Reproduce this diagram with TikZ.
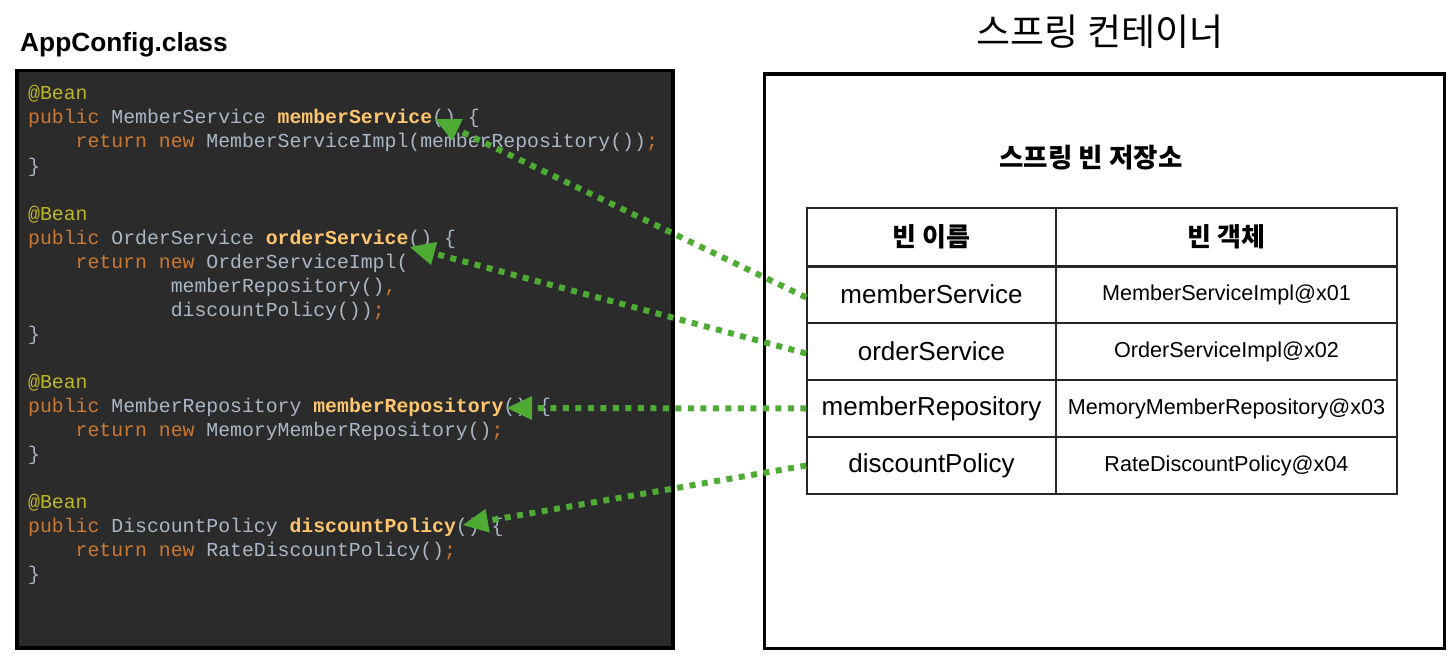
\documentclass[tikz,border=0pt]{standalone}
\usepackage{fontspec}
\setmainfont{Liberation Sans}
\newfontfamily\codefont{Liberation Mono}
\newfontfamily\krfont{Noto Sans CJK KR}
\usetikzlibrary{arrows.meta}
\definecolor{codebg}{HTML}{2B2B2B}
\definecolor{annot}{HTML}{BBB529}
\definecolor{kwcol}{HTML}{CC7832}
\definecolor{plaincol}{HTML}{A9B7C6}
\definecolor{methcol}{HTML}{FFC66D}
\definecolor{arrowgreen}{RGB}{78,172,52}
\newcommand{\kwd}[1]{\textcolor{kwcol}{#1}}
\newcommand{\mth}[1]{\textcolor{methcol}{\bfseries #1}}
\newcommand{\ann}[1]{\textcolor{annot}{#1}}
\newcommand{\indfour}{\hphantom{0000}}
\newcommand{\indtwelve}{\hphantom{000000000000}}
\tikzset{
  codeline/.style={anchor=base west, inner sep=0pt, text=plaincol,
    font=\codefont\fontsize{19.8}{24}\selectfont},
  cellL/.style={draw=black!85, line width=1.5pt, minimum width=249pt, minimum height=57pt,
    inner sep=0pt, font=\fontsize{26}{30}\selectfont},
  cellR/.style={draw=black!85, line width=1.5pt, minimum width=341pt, minimum height=57pt,
    inner sep=0pt, font=\fontsize{21.6}{26}\selectfont},
  headcell/.style={font=\krfont\bfseries\fontsize{26}{30}\selectfont, minimum height=58pt},
  conn/.style={draw=arrowgreen, line width=6pt, dash pattern=on 6pt off 6.5pt,
    -{Triangle[length=25pt,width=24pt,line width=0pt,fill=arrowgreen]}},
}
\begin{document}
\begin{tikzpicture}[x=1pt,y=-1pt]
\useasboundingbox (0,0) rectangle (1456,658);
% left code panel
\node[anchor=base west, inner sep=0pt, font=\bfseries\fontsize{26.3}{30}\selectfont] (apptitle) at (20,52) {AppConfig.class};
\node[draw=black, line width=3.5pt, fill=codebg, anchor=north west, minimum width=656pt, minimum height=577pt, inner sep=0pt] (codebox) at (15,69) {};
\node[codeline] (l0) at (28,100) {\ann{@Bean}};
\node[codeline] (l1) at (28,124) {\kwd{public} MemberService \mth{memberService}() \{};
\node[codeline] (l2) at (28,148) {\indfour\kwd{return new} MemberServiceImpl(memberRepository())\kwd{;}};
\node[codeline] (l3) at (28,172) {\}};
\node[codeline] (l5) at (28,220) {\ann{@Bean}};
\node[codeline] (l6) at (28,244) {\kwd{public} OrderService \mth{orderService}() \{};
\node[codeline] (l7) at (28,268) {\indfour\kwd{return new} OrderServiceImpl(};
\node[codeline] (l8) at (28,292) {\indtwelve memberRepository()\kwd{,}};
\node[codeline] (l9) at (28,316) {\indtwelve discountPolicy())\kwd{;}};
\node[codeline] (l10) at (28,340) {\}};
\node[codeline] (l12) at (28,388) {\ann{@Bean}};
\node[codeline] (l13) at (28,412) {\kwd{public} MemberRepository \mth{memberRepository}() \{};
\node[codeline] (l14) at (28,436) {\indfour\kwd{return new} MemoryMemberRepository()\kwd{;}};
\node[codeline] (l15) at (28,460) {\}};
\node[codeline] (l17) at (28,508) {\ann{@Bean}};
\node[codeline] (l18) at (28,532) {\kwd{public} DiscountPolicy \mth{discountPolicy}() \{};
\node[codeline] (l19) at (28,556) {\indfour\kwd{return new} RateDiscountPolicy()\kwd{;}};
\node[codeline] (l20) at (28,580) {\}};
% right container
\node[font=\krfont\fontsize{37}{44}\selectfont, inner sep=0pt] (ctitle) at (1100,32) {스프링 컨테이너};
\node[draw=black, line width=3.2pt, anchor=north west, minimum width=680pt, minimum height=574pt, inner sep=0pt] (container) at (763,72.5) {};
\node[font=\krfont\bfseries\fontsize{26.5}{30}\selectfont, inner sep=0pt] (stitle) at (1091,158) {스프링 빈 저장소};
% table
\node[cellL, headcell] (hL) at (931.5,237) {빈 이름};
\node[cellR, headcell] (hR) at (1226.5,237) {빈 객체};
\node[cellL] (r1L) at (931.5,294.5) {memberService};
\node[cellR] (r1R) at (1226.5,294.5) {MemberServiceImpl@x01};
\node[cellL] (r2L) at (931.5,351.5) {orderService};
\node[cellR] (r2R) at (1226.5,351.5) {OrderServiceImpl@x02};
\node[cellL] (r3L) at (931.5,408.5) {memberRepository};
\node[cellR] (r3R) at (1226.5,408.5) {MemoryMemberRepository@x03};
\node[cellL] (r4L) at (931.5,465.5) {discountPolicy};
\node[cellR] (r4R) at (1226.5,465.5) {RateDiscountPolicy@x04};
\draw[black!85, line width=2.5pt] (hL.south west) -- (hR.south east);
% connectors
\coordinate (t1) at (435,119);
\coordinate (t2) at (410,247);
\coordinate (t3) at (507,408);
\coordinate (t4) at (463,525);
\draw[conn] ([yshift=-3pt]r1L.west) -- (t1);
\draw[conn] ([yshift=-2pt]r2L.west) -- (t2);
\draw[conn] (r3L.west) -- (t3);
\draw[conn] (r4L.west) -- (t4);
\end{tikzpicture}
\end{document}
